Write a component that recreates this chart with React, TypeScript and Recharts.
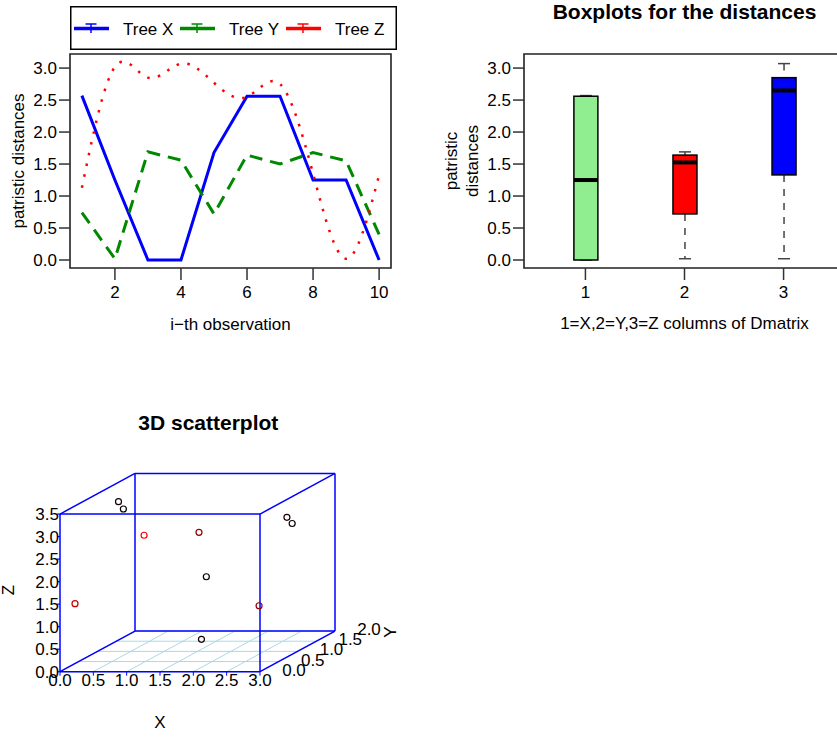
import React from "react";
import {
  LineChart,
  Line,
  ComposedChart,
  Bar,
  ScatterChart,
  Scatter,
  XAxis,
  YAxis,
  Legend,
  ReferenceArea,
  ReferenceLine,
} from "recharts";

const FONT = "'Liberation Sans', Arial, Helvetica, sans-serif";

// i-th observation and the patristic distances of the three trees
const observations = [1, 2, 3, 4, 5, 6, 7, 8, 9, 10];
const treeX = [2.57, 1.25, 0, 0, 1.68, 2.56, 2.56, 1.25, 1.25, 0];
const treeY = [0.74, 0.02, 1.69, 1.56, 0.72, 1.64, 1.5, 1.68, 1.55, 0.4];
const treeZ = [1.13, 3.02, 2.85, 3.07, 2.77, 2.55, 2.75, 1.35, 0.02, 1.33];
const seriesNames = ["Tree X", "Tree Y", "Tree Z"];

// ticks
const obsTicks = [2, 4, 6, 8, 10];
const distTicks = [0, 0.5, 1, 1.5, 2, 2.5, 3];
const boxGroups = [1, 2, 3];
const ticks3dX = [0, 0.5, 1, 1.5, 2, 2.5, 3];
const ticks3dY = [0, 0.5, 1, 1.5, 2];
const ticks3dZ = [0, 0.5, 1, 1.5, 2, 2.5, 3, 3.5];

const BLUE = "#0000FF";
const GREEN = "#008800";
const RED = "#FF0000";
const BOX_FILLS = ["#90EE90", "#FF0000", "#0000FF"];

const fmt1 = (v: number) => v.toFixed(1);

const lineData = observations.map((obs, i) => ({
  obs,
  x: treeX[i],
  y: treeY[i],
  z: treeZ[i],
}));

// Tukey five-number summary + whiskers, as boxplot() does
const boxStats = (vals: number[]) => {
  const s = [...vals].sort((a, b) => a - b);
  const n = s.length;
  const at = (d: number) => 0.5 * (s[Math.floor(d) - 1] + s[Math.ceil(d) - 1]);
  const n4 = Math.floor((n + 3) / 2) / 2;
  const q1 = at(n4);
  const med = at((n + 1) / 2);
  const q3 = at(n + 1 - n4);
  const iqr = q3 - q1;
  const lo = Math.min(...s.filter((v) => v >= q1 - 1.5 * iqr));
  const hi = Math.max(...s.filter((v) => v <= q3 + 1.5 * iqr));
  return { q1, med, q3, lo, hi };
};

const boxData = [treeX, treeY, treeZ].map((vals, i) => {
  const st = boxStats(vals);
  return { group: boxGroups[i], range: [st.lo, st.hi], ...st };
});

// oblique projection used by the 3D scatterplot
const YX = 0.5625;
const YZ = 0.4512;
const X_END = ticks3dX[ticks3dX.length - 1];
const Y_END = ticks3dY[ticks3dY.length - 1];
const Z_END = ticks3dZ[ticks3dZ.length - 1];
const U_MAX = X_END + Y_END * YX;
const V_MAX = Z_END + Y_END * YZ;
const project = (x: number, y: number, z: number) => ({ u: x + y * YX, v: z + y * YZ });

const yMin = Math.min(...treeY);
const yMax = Math.max(...treeY);
const scatterPoints = observations.map((_, i) => {
  const r = Math.round((255 * (yMax - treeY[i])) / (yMax - yMin));
  return { ...project(treeX[i], treeY[i], treeZ[i]), col: `rgb(${r},0,0)` };
});

const corners: number[][] = [];
[0, X_END].forEach((x) => [0, Y_END].forEach((y) => [0, Z_END].forEach((z) => corners.push([x, y, z]))));
const cubeEdges: { u: number; v: number }[][] = [];
corners.forEach((a, i) =>
  corners.forEach((b, j) => {
    if (j <= i) return;
    const diff = a.filter((c, k) => c !== b[k]).length;
    if (diff === 1) cubeEdges.push([project(a[0], a[1], a[2]), project(b[0], b[1], b[2])]);
  })
);
const floorGrid = [
  ...ticks3dY.map((y) => [project(0, y, 0), project(X_END, y, 0)]),
  ...ticks3dX.map((x) => [project(x, 0, 0), project(x, Y_END, 0)]),
];
const yTickLabels = ticks3dY.map((y) => ({ ...project(X_END, y, 0), caption: fmt1(y), dx: 34, dy: 4, rot: 0 }));
const yTitle = [{ ...project(X_END, Y_END, 0), caption: "Y", dx: 61, dy: 1, rot: -90 }];

const tickStyle = { fill: "#000", fontSize: 17, fontFamily: FONT };

const AxisTitle = ({ caption, tx, ty, rot = 0, step = 0 }: any) => {
  const lines: string[] = Array.isArray(caption) ? caption : [caption];
  return (
    <g>
      {lines.map((t, i) => {
        const x = tx + i * step;
        return (
          <text
            key={i}
            x={x}
            y={ty}
            textAnchor="middle"
            fontSize={17}
            fontFamily={FONT}
            fill="#000"
            transform={rot ? `rotate(${rot} ${x} ${ty})` : undefined}
          >
            {t}
          </text>
        );
      })}
    </g>
  );
};

const LineLegend = ({ payload }: any) => (
  <svg width={327} height={44} style={{ display: "block" }}>
    <rect x={0.75} y={0.75} width={325.5} height={42.5} fill="#fff" stroke="#000" strokeWidth={1.5} />
    {(payload || []).map((e: any, i: number) => {
      const x0 = 4 + i * 106;
      return (
        <g key={i}>
          <line x1={x0} x2={x0 + 35} y1={22.5} y2={22.5} stroke={e.color} strokeWidth={3.5} />
          <line x1={x0 + 17} x2={x0 + 17} y1={18} y2={27} stroke={e.color} strokeWidth={1.5} />
          <line x1={x0 + 11.5} x2={x0 + 22.5} y1={18} y2={18} stroke={e.color} strokeWidth={1.5} />
          <text x={x0 + 49} y={28.5} fontSize={17} fontFamily={FONT} fill="#000">
            {e.value}
          </text>
        </g>
      );
    })}
  </svg>
);

const BoxShape = (props: any) => {
  const { x, y, width, height } = props;
  const p = props.payload || props;
  const top = Math.min(y, y + height);
  const bottom = Math.max(y, y + height);
  const span = p.hi - p.lo || 1;
  const py = (v: number) => bottom - ((v - p.lo) / span) * (bottom - top);
  const cx = x + width / 2;
  const yq1 = py(p.q1);
  const yq3 = py(p.q3);
  const ym = py(p.med);
  const cap = width / 4;
  const fill = BOX_FILLS[boxGroups.indexOf(p.group)];
  return (
    <g>
      <line x1={cx} x2={cx} y1={top} y2={yq3} stroke="#444" strokeWidth={1.5} strokeDasharray="7 7" />
      <line x1={cx} x2={cx} y1={yq1} y2={bottom} stroke="#444" strokeWidth={1.5} strokeDasharray="7 7" />
      <line x1={cx - cap} x2={cx + cap} y1={top} y2={top} stroke="#444" strokeWidth={1.5} />
      <line x1={cx - cap} x2={cx + cap} y1={bottom} y2={bottom} stroke="#444" strokeWidth={1.5} />
      <rect x={x} y={yq3} width={width} height={Math.max(0, yq1 - yq3)} fill={fill} stroke="#000" strokeWidth={1.5} />
      <line x1={x} x2={x + width} y1={ym} y2={ym} stroke="#000" strokeWidth={4} />
    </g>
  );
};

const PointShape = (props: any) => {
  const cx = props.cx ?? props.x;
  const cy = props.cy ?? props.y;
  const col = (props.payload || props).col;
  return <circle cx={cx} cy={cy} r={3} fill="none" stroke={col} strokeWidth={1.2} />;
};

const TextShape = (props: any) => {
  const cx = props.cx ?? props.x;
  const cy = props.cy ?? props.y;
  const p = props.payload || props;
  const tx = cx + p.dx;
  const ty = cy + p.dy;
  return (
    <text
      x={tx}
      y={ty}
      textAnchor="middle"
      fontSize={17}
      fontFamily={FONT}
      fill="#000"
      transform={p.rot ? `rotate(${p.rot} ${tx} ${ty})` : undefined}
    >
      {p.caption}
    </text>
  );
};

const titleStyle = (cx: number, baseline: number): React.CSSProperties => ({
  position: "absolute",
  left: cx - 250,
  width: 500,
  top: baseline - 17.8,
  textAlign: "center",
  fontFamily: FONT,
  fontWeight: "bold",
  fontSize: 21,
  lineHeight: "21px",
  color: "#000",
  whiteSpace: "nowrap",
});

export default function App() {
  return (
    <div
      style={{
        position: "absolute",
        left: 0,
        top: 0,
        width: 837,
        height: 737,
        overflow: "hidden",
        background: "#fff",
        fontFamily: FONT,
      }}
    >
      {/* line plot of the three trees */}
      <div style={{ position: "absolute", left: 0, top: 0 }}>
        <LineChart width={400} height={345} data={lineData} margin={{ top: 54, right: 9, bottom: 0, left: 0 }}>
          <XAxis
            type="number"
            dataKey="obs"
            domain={[0.64, 10.36]}
            ticks={obsTicks}
            interval={0}
            height={77}
            axisLine={false}
            tickSize={12}
            tickMargin={6}
            tick={tickStyle}
            tickLine={{ stroke: "#333", strokeWidth: 1.5 }}
            label={<AxisTitle caption="i−th observation" tx={230.5} ty={330} />}
          />
          <YAxis
            type="number"
            domain={[-0.125, 3.22]}
            ticks={distTicks}
            interval={0}
            tickFormatter={fmt1}
            width={70}
            axisLine={false}
            tickSize={11}
            tickMargin={2}
            tick={tickStyle}
            tickLine={{ stroke: "#333", strokeWidth: 1.5 }}
            label={<AxisTitle caption="patristic distances" tx={24} ty={161} rot={-90} />}
          />
          <ReferenceArea
            x1={0.64}
            x2={10.36}
            y1={-0.125}
            y2={3.22}
            fill="none"
            stroke="#222"
            strokeWidth={1.6}
            ifOverflow="visible"
          />
          <Line type="linear" dataKey="x" name={seriesNames[0]} stroke={BLUE} strokeWidth={3} dot={false} isAnimationActive={false} />
          <Line
            type="linear"
            dataKey="y"
            name={seriesNames[1]}
            stroke={GREEN}
            strokeWidth={3}
            strokeDasharray="13 8"
            dot={false}
            isAnimationActive={false}
          />
          <Line
            type="natural"
            dataKey="z"
            name={seriesNames[2]}
            stroke={RED}
            strokeWidth={2.5}
            strokeDasharray="2.5 8.5"
            dot={false}
            isAnimationActive={false}
          />
          <Legend
            layout="horizontal"
            verticalAlign="middle"
            align="center"
            content={LineLegend}
            wrapperStyle={{ position: "absolute", left: 70, top: 6, width: 327, height: 44, margin: 0, padding: 0 }}
          />
        </LineChart>
      </div>

      {/* boxplots */}
      <div style={titleStyle(684.5, 18.5)}>Boxplots for the distances</div>
      <div style={{ position: "absolute", left: 420, top: 0 }}>
        <ComposedChart width={430} height={345} data={boxData} margin={{ top: 54, right: 5, bottom: 0, left: 0 }}>
          <XAxis
            type="number"
            dataKey="group"
            domain={[0.38, 3.62]}
            ticks={boxGroups}
            interval={0}
            height={77}
            axisLine={false}
            tickSize={12}
            tickMargin={6}
            tick={tickStyle}
            tickLine={{ stroke: "#333", strokeWidth: 1.5 }}
            label={<AxisTitle caption="1=X,2=Y,3=Z columns of Dmatrix" tx={264.5} ty={328.5} />}
          />
          <YAxis
            type="number"
            domain={[-0.125, 3.22]}
            ticks={distTicks}
            interval={0}
            tickFormatter={fmt1}
            width={104}
            axisLine={false}
            tickSize={11}
            tickMargin={2}
            tick={tickStyle}
            tickLine={{ stroke: "#333", strokeWidth: 1.5 }}
            label={<AxisTitle caption={["patristic", "distances"]} tx={37} step={20.5} ty={161} rot={-90} />}
          />
          <ReferenceArea
            x1={0.38}
            x2={3.62}
            y1={-0.125}
            y2={3.22}
            fill="none"
            stroke="#222"
            strokeWidth={1.6}
            ifOverflow="visible"
          />
          <Bar dataKey="range" barSize={24} shape={BoxShape} isAnimationActive={false} />
        </ComposedChart>
      </div>

      {/* 3D scatterplot */}
      <div style={titleStyle(208.3, 430)}>3D scatterplot</div>
      <div style={{ position: "absolute", left: 0, top: 400 }}>
        <ScatterChart width={420} height={337} margin={{ top: 73.4, right: 85, bottom: 0, left: 0 }}>
          <XAxis
            type="number"
            dataKey="u"
            domain={[0, U_MAX]}
            ticks={ticks3dX}
            interval={0}
            tickFormatter={fmt1}
            height={65.3}
            axisLine={false}
            tickSize={4}
            tickMargin={-2}
            tick={tickStyle}
            tickLine={{ stroke: BLUE, strokeWidth: 1 }}
            label={<AxisTitle caption="X" tx={160} ty={328} />}
          />
          <YAxis
            type="number"
            dataKey="v"
            domain={[0, V_MAX]}
            ticks={ticks3dZ}
            interval={0}
            tickFormatter={fmt1}
            width={60}
            axisLine={false}
            tickSize={3}
            tickMargin={-2}
            tick={tickStyle}
            tickLine={{ stroke: BLUE, strokeWidth: 1.2 }}
            label={<AxisTitle caption="Z" tx={13.5} ty={190} rot={-90} />}
          />
          {floorGrid.map((seg, i) => (
            <ReferenceLine
              key={`g${i}`}
              segment={[{ x: seg[0].u, y: seg[0].v }, { x: seg[1].u, y: seg[1].v }]}
              stroke="#ADD8E6"
              strokeWidth={1}
              ifOverflow="visible"
            />
          ))}
          {cubeEdges.map((seg, i) => (
            <ReferenceLine
              key={`e${i}`}
              segment={[{ x: seg[0].u, y: seg[0].v }, { x: seg[1].u, y: seg[1].v }]}
              stroke={BLUE}
              strokeWidth={1.5}
              ifOverflow="visible"
            />
          ))}
          <Scatter data={yTickLabels} shape={TextShape} isAnimationActive={false} />
          <Scatter data={yTitle} shape={TextShape} isAnimationActive={false} />
          <Scatter data={scatterPoints} shape={PointShape} isAnimationActive={false} />
        </ScatterChart>
      </div>
    </div>
  );
}
